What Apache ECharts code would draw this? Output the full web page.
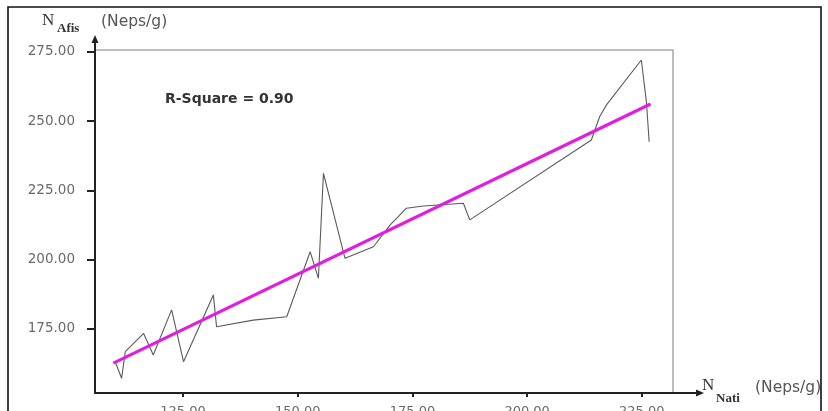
<!DOCTYPE html>
<html>
<head>
<meta charset="utf-8">
<title>N Afis vs N Nati</title>
<script src="https://cdn.jsdelivr.net/npm/echarts@6/dist/echarts.min.js"></script>
<style>
  html, body { margin: 0; padding: 0; background: #fff; }
  #chart { width: 828px; height: 411px; }
</style>
</head>
<body>
<div id="chart"></div>
<script>
// Nep counts: raw (Nati) on x, processed (Afis) on y, ordered by x
const natiNeps = [110.2, 111.6, 112.4, 116.4, 118.5, 122.5, 125.1, 131.6, 132.3, 140.3,
                  147.6, 152.7, 154.5, 155.6, 160.3, 166.5, 170.1, 173.7, 177.4, 186.1,
                  187.5, 214.0, 215.8, 217.3, 224.9, 226.0, 226.6];
const afisNeps = [163.2, 157.2, 166.8, 173.4, 165.6, 181.9, 163.2, 187.3, 175.8, 178.2,
                  179.4, 202.9, 193.3, 231.2, 200.5, 204.7, 212.5, 218.6, 219.4, 220.4,
                  214.4, 243.2, 251.6, 255.9, 272.1, 257.0, 242.6];

// Least-squares fit line, end points
const fitX = [109.8, 226.9];
const fitY = [162.7, 256.2];
const rSquare = '0.90';

// Axis tick values
const xTicks = [125, 150, 175, 200, 225];
const yTicks = [175, 200, 225, 250, 275];

const pairs = natiNeps.map((x, i) => [x, afisNeps[i]]);
const fitPairs = fitX.map((x, i) => [x, fitY[i]]);

const chart = echarts.init(document.getElementById('chart'), null, { renderer: 'canvas' });

const axisDark = '#222';
const serif = '"Liberation Serif", "DejaVu Serif", serif';
const sans = '"DejaVu Sans", "Liberation Sans", sans-serif';

chart.setOption({
  animation: false,
  backgroundColor: '#fff',
  grid: {
    left: 95, right: 155, top: 50, bottom: 18,
    outerBoundsMode: 'none',
    containLabel: false,
    show: true, borderColor: '#a8a8a8', borderWidth: 1.5, backgroundColor: 'transparent'
  },
  xAxis: {
    type: 'value',
    min: 105.8, max: 231.8,
    splitLine: { show: false },
    axisLine: { show: true, onZero: false, lineStyle: { color: axisDark, width: 2 } },
    axisTick: { show: true, customValues: xTicks, length: 4, lineStyle: { color: axisDark, width: 2 } },
    axisLabel: {
      customValues: xTicks, margin: 12,
      formatter: v => v.toFixed(2),
      color: '#6a6a6a', fontFamily: sans, fontSize: 13
    }
  },
  yAxis: {
    type: 'value',
    min: 151.9, max: 275.7,
    splitLine: { show: false },
    axisLine: { show: true, onZero: false, lineStyle: { color: axisDark, width: 2 } },
    axisTick: { show: true, customValues: yTicks, length: 8, lineStyle: { color: axisDark, width: 2 } },
    axisLabel: {
      customValues: yTicks, margin: 20,
      formatter: v => v.toFixed(2),
      color: '#6a6a6a', fontFamily: sans, fontSize: 13.5
    }
  },
  series: [
    {
      name: 'Afis',
      type: 'line',
      data: pairs,
      showSymbol: false,
      symbol: 'none',
      lineStyle: { color: '#5a5a5a', width: 1.1 },
      z: 2
    },
    {
      name: 'Fit',
      type: 'line',
      data: fitPairs,
      showSymbol: false,
      symbol: 'none',
      lineStyle: { color: '#e01ee0', width: 3.2 },
      z: 3
    }
  ],
  graphic: [
    // outer frame
    { type: 'rect', shape: { x: 8, y: 7, width: 813, height: 410 },
      style: { fill: 'none', stroke: '#111', lineWidth: 1.6 }, z: 10 },
    // axis extensions and arrow heads
    { type: 'line', shape: { x1: 673, y1: 393, x2: 697, y2: 393 },
      style: { stroke: axisDark, lineWidth: 2 }, z: 10 },
    { type: 'polygon', shape: { points: [[696, 389.5], [704, 393], [696, 396.5]] },
      style: { fill: axisDark }, z: 10 },
    { type: 'line', shape: { x1: 95, y1: 50, x2: 95, y2: 40 },
      style: { stroke: axisDark, lineWidth: 2 }, z: 10 },
    { type: 'polygon', shape: { points: [[91.5, 43], [95, 35], [98.5, 43]] },
      style: { fill: axisDark }, z: 10 },
    // y axis name
    { type: 'text', x: 42, y: 21, z: 10,
      style: { text: 'N', font: '17px ' + serif, fill: '#333', verticalAlign: 'middle' } },
    { type: 'text', x: 57, y: 29, z: 10,
      style: { text: 'Afis', font: 'bold 13px ' + serif, fill: '#333', verticalAlign: 'middle' } },
    { type: 'text', x: 101, y: 22, z: 10,
      style: { text: '(Neps/g)', font: '15.5px ' + sans, fill: '#555', verticalAlign: 'middle' } },
    // x axis name
    { type: 'text', x: 702, y: 386, z: 10,
      style: { text: 'N', font: '17px ' + serif, fill: '#333', verticalAlign: 'middle' } },
    { type: 'text', x: 716, y: 399, z: 10,
      style: { text: 'Nati', font: 'bold 13px ' + serif, fill: '#333', verticalAlign: 'middle' } },
    { type: 'text', x: 755, y: 388, z: 10,
      style: { text: '(Neps/g)', font: '15.5px ' + sans, fill: '#555', verticalAlign: 'middle' } },
    // goodness of fit
    { type: 'text', x: 165, y: 99, z: 10,
      style: { text: 'R-Square = ' + rSquare, font: 'bold 14px ' + sans, fill: '#333', verticalAlign: 'middle' } }
  ]
});
</script>
</body>
</html>
